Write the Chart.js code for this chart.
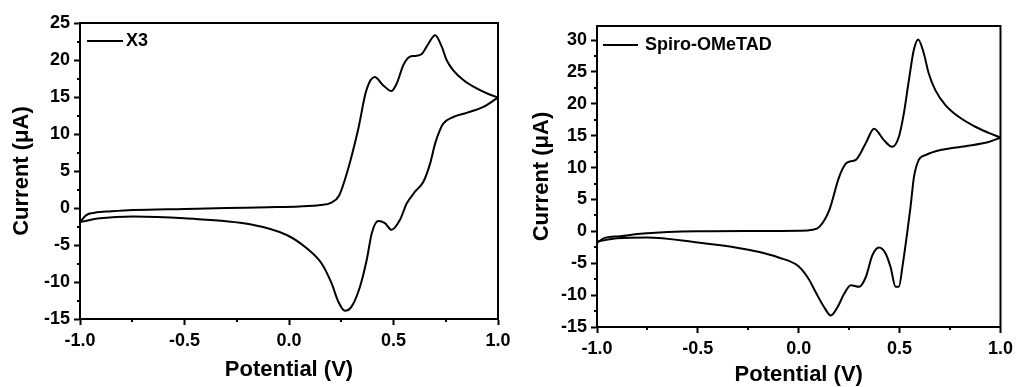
<!DOCTYPE html>
<html>
<head>
<meta charset="utf-8">
<script src="https://cdn.jsdelivr.net/npm/chart.js@4.4.1/dist/chart.umd.min.js"></script>
<style>
html, body { margin: 0; padding: 0; background: #fff; }
#wrap { position: relative; width: 1018px; height: 387px; overflow: hidden; }
#cvSpiro { position: absolute; left: 510px; top: 0; }
#cvX3 { position: absolute; left: 0; top: 0; }
</style>
</head>
<body>
<div id="wrap">
  <canvas id="cvSpiro" width="508" height="387"></canvas>
  <canvas id="cvX3" width="540" height="387"></canvas>
</div>
<script>
// X3: forward (oxidation) sweep and reverse sweep, potential in V, current in uA
const x3ForwardV = [-1.0, -0.97, -0.93, -0.85, -0.745, -0.5, -0.3, -0.1, 0.05, 0.15, 0.20, 0.24, 0.28, 0.33, 0.37, 0.41, 0.45, 0.49, 0.515, 0.547, 0.575, 0.605, 0.635, 0.667, 0.699, 0.731, 0.754, 0.786, 0.834, 0.898, 0.954, 1.0];
const x3ForwardI = [-1.9, -0.96, -0.64, -0.45, -0.27, -0.12, 0.0, 0.1, 0.2, 0.4, 0.7, 1.7, 5.0, 10.5, 15.9, 17.7, 16.6, 15.8, 16.8, 19.3, 20.4, 20.55, 20.8, 22.2, 23.35, 21.8, 20.0, 18.6, 17.3, 16.15, 15.4, 14.93];
const x3ReverseV = [1.0, 0.93, 0.85, 0.786, 0.738, 0.72, 0.699, 0.675, 0.643, 0.603, 0.563, 0.531, 0.491, 0.459, 0.427, 0.396, 0.372, 0.34, 0.30, 0.268, 0.236, 0.204, 0.156, 0.085, -0.011, -0.187, -0.5, -0.745, -0.904, -1.0];
const x3ReverseI = [14.93, 13.66, 12.85, 12.3, 11.4, 10.4, 8.7, 6.0, 3.55, 2.2, 0.6, -1.6, -2.95, -2.05, -1.75, -3.4, -7.0, -10.6, -13.3, -13.9, -12.65, -10.2, -7.5, -5.45, -3.65, -2.2, -1.4, -1.15, -1.4, -1.9];

// Spiro-OMeTAD
const spiroForwardV = [-1.0, -0.967, -0.885, -0.77, -0.507, -0.2, 0.0, 0.07, 0.102, 0.151, 0.2, 0.233, 0.258, 0.283, 0.332, 0.373, 0.422, 0.463, 0.496, 0.521, 0.546, 0.57, 0.592, 0.62, 0.644, 0.677, 0.727, 0.793, 0.875, 0.941, 1.0];
const spiroForwardI = [-1.8, -1.1, -0.77, -0.35, 0.0, 0.05, 0.1, 0.25, 0.7, 3.3, 8.5, 10.6, 11.0, 11.2, 13.8, 16.1, 14.3, 13.25, 14.8, 18.5, 23.7, 28.4, 30.1, 27.9, 24.8, 22.15, 19.8, 17.96, 16.4, 15.45, 14.7];
const spiroReverseV = [1.0, 0.941, 0.826, 0.71, 0.628, 0.595, 0.571, 0.554, 0.537, 0.516, 0.496, 0.48, 0.455, 0.431, 0.398, 0.365, 0.332, 0.299, 0.258, 0.225, 0.192, 0.159, 0.126, 0.085, 0.05, 0.0, -0.1, -0.2, -0.3, -0.5, -0.753, -0.9, -1.0];
const spiroReverseI = [14.7, 14.0, 13.35, 12.8, 11.95, 11.2, 8.5, 3.8, -0.35, -5.1, -8.7, -8.7, -5.6, -3.5, -2.55, -3.75, -7.2, -8.7, -8.45, -9.8, -11.9, -13.2, -11.9, -9.6, -7.5, -5.5, -4.1, -3.2, -2.6, -1.76, -0.97, -1.1, -1.6];

const FONT = "'Liberation Sans', Arial, sans-serif";

const toPoints = (vs, is) => vs.map((v, i) => ({ x: v, y: is[i] }));

// box round the plot plus the short minor ticks between the labelled ones
const frameAndMinor = {
    id: 'frameAndMinor',
    afterDraw(chart) {
        const { ctx, chartArea: a, scales } = chart;
        ctx.save();
        ctx.strokeStyle = '#000';
        ctx.lineWidth = 2;
        ctx.strokeRect(a.left, a.top, a.right - a.left, a.bottom - a.top);
        ctx.beginPath();
        const xt = scales.x.ticks;
        for (let i = 0; i < xt.length - 1; i++) {
            const px = Math.round(scales.x.getPixelForValue((xt[i].value + xt[i + 1].value) / 2));
            ctx.moveTo(px, a.bottom);
            ctx.lineTo(px, a.bottom + 3);
        }
        const yt = scales.y.ticks;
        for (let i = 0; i < yt.length - 1; i++) {
            const py = Math.round(scales.y.getPixelForValue((yt[i].value + yt[i + 1].value) / 2));
            ctx.moveTo(a.left, py);
            ctx.lineTo(a.left - 3, py);
        }
        ctx.stroke();
        ctx.restore();
    }
};

// legend drawn inside the plot, top-left: short line then label
const lineLegend = {
    id: 'lineLegend',
    afterDraw(chart, args, opts) {
        const { ctx, chartArea } = chart;
        const ds = chart.data.datasets[0];
        const x0 = chartArea.left + opts.dx;
        const y0 = chartArea.top + opts.dy;
        ctx.save();
        ctx.strokeStyle = ds.borderColor;
        ctx.lineWidth = ds.borderWidth;
        ctx.beginPath();
        ctx.moveTo(x0, y0);
        ctx.lineTo(x0 + opts.len, y0);
        ctx.stroke();
        ctx.fillStyle = '#000';
        ctx.font = 'bold 18px ' + FONT;
        ctx.textBaseline = 'middle';
        ctx.fillText(ds.label, x0 + opts.len + opts.gap, y0);
        ctx.restore();
    }
};

function makeChart(canvasId, label, fwd, rev, lay) {
    const curve = {
        borderColor: '#000',
        borderWidth: 2,
        pointRadius: 0,
        showLine: true,
        cubicInterpolationMode: 'monotone',
        fill: false
    };
    return new Chart(document.getElementById(canvasId), {
        type: 'scatter',
        data: {
            datasets: [
                Object.assign({ label: label, data: fwd }, curve),
                Object.assign({ label: label + ' reverse', data: rev }, curve)
            ]
        },
        options: {
            responsive: false,
            animation: false,
            layout: { padding: { left: 0, top: lay.top, right: lay.right, bottom: 0 } },
            plugins: {
                legend: { display: false },
                tooltip: { enabled: false },
                lineLegend: lay.legend
            },
            scales: {
                x: {
                    type: 'linear',
                    min: -1,
                    max: 1,
                    ticks: {
                        stepSize: 0.5,
                        callback: v => v.toFixed(1),
                        font: { family: FONT, size: 18, weight: 'bold' },
                        color: '#000',
                        padding: 5,
                        maxRotation: 0
                    },
                    grid: { drawOnChartArea: false, tickLength: 6, tickWidth: 2, tickColor: '#000' },
                    border: { color: '#000', width: 2 },
                    title: {
                        display: true,
                        text: 'Potential (V)',
                        color: '#000',
                        font: { family: FONT, size: 22, weight: 'bold', lineHeight: 1 },
                        padding: { top: 0, bottom: lay.xTitlePad }
                    },
                    afterFit: s => { s.height = lay.xHeight; }
                },
                y: {
                    type: 'linear',
                    min: -15,
                    max: lay.yMax,
                    ticks: {
                        stepSize: 5,
                        includeBounds: false,
                        font: { family: FONT, size: 18, weight: 'bold' },
                        color: '#000',
                        padding: 4
                    },
                    afterBuildTicks: s => { s.ticks = s.ticks.filter(t => t.value % 5 === 0); },
                    grid: { drawOnChartArea: false, tickLength: 6, tickWidth: 2, tickColor: '#000' },
                    border: { color: '#000', width: 2 },
                    title: {
                        display: true,
                        text: 'Current (\u03bcA)',
                        color: '#000',
                        font: { family: FONT, size: 22, weight: 'bold', lineHeight: 1 },
                        padding: { top: lay.yTitlePad, bottom: 0 }
                    },
                    afterFit: s => { s.width = lay.yWidth; }
                }
            }
        },
        plugins: [frameAndMinor, lineLegend]
    });
}

makeChart('cvX3', 'X3',
    toPoints(x3ForwardV, x3ForwardI), toPoints(x3ReverseV, x3ReverseI),
    { top: 23, right: 42, yWidth: 80, xHeight: 68, yMax: 25, xTitlePad: 6, yTitlePad: 11,
      legend: { dx: 7, dy: 18, len: 36, gap: 3 } });

makeChart('cvSpiro', 'Spiro-OMeTAD',
    toPoints(spiroForwardV, spiroForwardI), toPoints(spiroReverseV, spiroReverseI),
    { top: 26, right: 16, yWidth: 87, xHeight: 60, yMax: 32.2, xTitlePad: 1, yTitlePad: 21,
      legend: { dx: 6, dy: 19, len: 35, gap: 7 } });
</script>
</body>
</html>
